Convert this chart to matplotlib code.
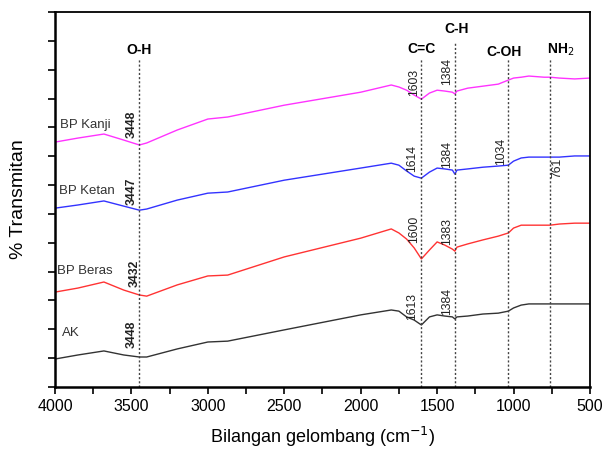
import matplotlib
matplotlib.use('Agg')
import matplotlib.pyplot as plt
from matplotlib.ticker import MultipleLocator

plt.rcParams['font.family'] = ['Liberation Sans', 'DejaVu Sans']

# bilangan gelombang (cm-1)
wn = [4000, 3850, 3680, 3550, 3448, 3400, 3200, 3000, 2870, 2500, 2000, 1800, 1750, 1700, 1650,
      1603, 1550, 1500, 1450, 1400, 1384, 1370, 1300, 1200, 1100, 1034, 1000, 950, 900, 800,
      761, 700, 600, 500]

# % transmitan (offset, arbitrary units)
kanji = [8.49, 8.63, 8.77, 8.56, 8.39, 8.46, 8.91, 9.29, 9.36, 9.77, 10.22, 10.47, 10.40, 10.29, 10.12,
         9.98, 10.19, 10.29, 10.26, 10.22, 10.16, 10.26, 10.36, 10.43, 10.50, 10.64, 10.71, 10.74, 10.78, 10.74,
         10.74, 10.71, 10.68, 10.71]
ketan = [6.20, 6.31, 6.45, 6.27, 6.13, 6.17, 6.48, 6.72, 6.76, 7.17, 7.59, 7.76, 7.69, 7.49, 7.31,
         7.24, 7.45, 7.59, 7.56, 7.52, 7.38, 7.52, 7.56, 7.62, 7.66, 7.69, 7.83, 7.94, 7.97, 7.97,
         7.97, 7.97, 8.01, 8.01]
beras = [3.29, 3.43, 3.64, 3.36, 3.19, 3.15, 3.54, 3.85, 3.88, 4.51, 5.16, 5.48, 5.34, 5.13, 4.82,
         4.44, 4.75, 5.03, 4.92, 4.78, 4.71, 4.85, 4.96, 5.10, 5.23, 5.34, 5.51, 5.61, 5.61, 5.61,
         5.61, 5.65, 5.68, 5.68]
ak = [0.97, 1.11, 1.25, 1.11, 1.04, 1.04, 1.32, 1.56, 1.59, 1.98, 2.50, 2.67, 2.63, 2.43, 2.32,
      2.15, 2.43, 2.50, 2.46, 2.43, 2.36, 2.43, 2.46, 2.53, 2.56, 2.63, 2.74, 2.84, 2.88, 2.88,
      2.88, 2.88, 2.88, 2.88]

names = ['BP Kanji', 'BP Ketan', 'BP Beras', 'AK']
colors = ['#ff33ff', '#3333ff', '#ff3333', '#333333']
name_pos = [(3967, 9.08), (3974, 6.79), (3987, 4.02), (3954, 1.87)]

# gugus fungsi: posisi garis, teks
groups = ['O-H', 'C=C', 'C-H', 'C-OH', 'NH$_2$']
group_wn = [3448, 1603, 1384, 1034, 761]
group_top = [11.37, 11.37, 11.92, 11.37, 11.37]
group_lbl = [(3448, 11.68), (1603, 11.72), (1375, 12.41), (1060, 11.61), (690, 11.68)]

# label puncak: (wn, y bawah teks, teks, tebal)
peaks = [(3448, 8.63, '3448', True), (1603, 10.09, '1603', False), (1384, 10.47, '1384', False),
         (3447, 6.31, '3447', True), (1614, 7.45, '1614', False), (1384, 7.59, '1384', False),
         (1034, 7.69, '1034', False),
         (3432, 3.47, '3432', True), (1600, 4.99, '1600', False), (1383, 4.92, '1383', False),
         (3448, 1.35, '3448', True), (1613, 2.32, '1613', False), (1384, 2.50, '1384', False)]

fig = plt.figure(figsize=(6.03, 4.5), dpi=100)
ax = fig.add_axes([0.0912, 0.14, 0.8872, 0.8333])

for y, c in zip([kanji, ketan, beras, ak], colors):
    ax.plot(wn, y, color=c, lw=1)
for n, (px, py) in zip(names, name_pos):
    ax.text(px, py, n, fontsize=9.5, color='#333333', ha='left', va='center')

for g, w, t, (lx, ly) in zip(groups, group_wn, group_top, group_lbl):
    ax.plot([w, w], [0, t], color='#444444', lw=1, ls=(0, (1.5, 1.5)))
    ax.text(lx, ly, g, fontsize=10, fontweight='bold', ha='center', va='center')

for w, yb, t, b in peaks:
    ax.text(w + 10, yb, t, rotation=90, fontsize=8.8, ha='right', va='bottom', color='#222222',
            fontweight='bold' if b else 'normal')
ax.text(761 - 8, 7.94, '761', rotation=90, fontsize=8.8, ha='left', va='top', color='#222222')

ax.set_xlim(4000, 500)
ax.set_ylim(0, 13)
ax.xaxis.set_major_locator(MultipleLocator(500))
ax.xaxis.set_minor_locator(MultipleLocator(250))
ax.yaxis.set_major_locator(MultipleLocator(1))
ax.set_yticklabels([])
ax.tick_params(axis='both', which='both', direction='out', length=5, width=1.2, top=False, right=False)
ax.tick_params(axis='x', labelsize=11.5)
for s in ['left', 'bottom']:
    ax.spines[s].set_linewidth(1.8)
for s in ['top', 'right']:
    ax.spines[s].set_linewidth(1.3)

ax.set_xlabel('Bilangan gelombang (cm$^{-1}$)', fontsize=13, labelpad=8)
ax.set_ylabel('% Transmitan', fontsize=14, labelpad=12)

fig.savefig('out.png', dpi=100)
